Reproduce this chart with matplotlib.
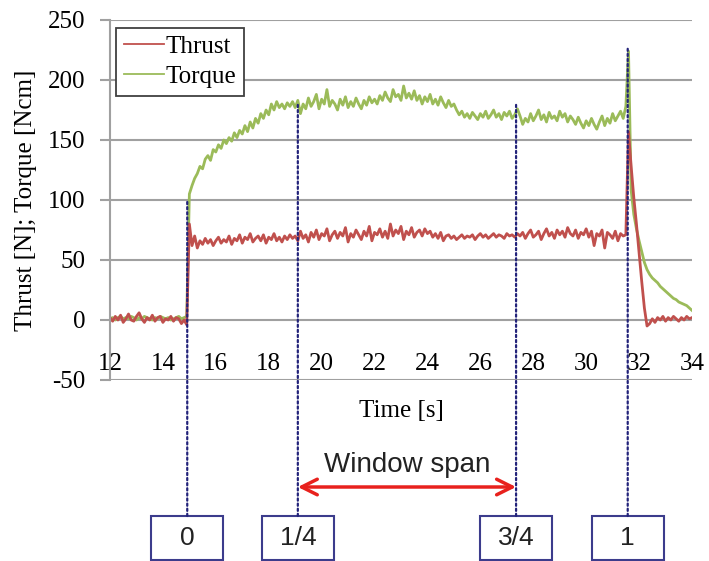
import numpy as np
import matplotlib
matplotlib.use("Agg")
import matplotlib.pyplot as plt
import matplotlib.transforms as mtransforms
from matplotlib.patches import Rectangle

plt.rcParams["axes.unicode_minus"] = False

# ---------------------------------------------------- data
# samples every 0.1 s from 12.0 s to 34.0 s
t_start, t_step = 12.0, 0.1

thrust = [
    # 12.0 - 14.9
    2, -1, 3, 0, 4, -2, 1, 5, 0, -1, 3, 6, 1, -2, 2, 0, 4, -1, 2, 3, -2, 1, 0, 3, -1, 2, 1, -3, 0, -4,
    # 15.0 - 19.0
    80, 62, 70, 60, 66, 63, 68, 64, 67, 62, 66, 69, 64, 67, 65, 70, 63, 68, 66, 71, 64, 69, 67, 72, 65,
    68, 70, 66, 71, 64, 69, 67, 72, 66, 69, 65, 70, 67, 71, 68, 70,
    # 19.1 - 24.0
    66, 74, 68, 71, 65, 73, 69, 75, 67, 72, 70, 76, 66, 71, 74, 68, 73, 70, 77, 65, 72, 69, 75, 71, 67,
    74, 70, 78, 66, 73, 71, 76, 69, 74, 68, 80, 70, 75, 72, 78, 67, 74, 71, 77, 69, 73, 75, 70, 76, 72,
    # 24.1 - 27.4
    74, 69, 72, 68, 73, 66, 70, 71, 68, 70, 67, 69, 71, 68, 70, 69, 71, 67, 70, 72, 69, 71, 68, 70, 72,
    69, 71, 70, 68, 72, 70, 71, 69, 72,
    # 27.5 - 31.5
    70, 73, 68, 72, 75, 69, 71, 74, 67, 72, 76, 70, 73, 68, 75, 71, 74, 69, 77, 72, 70, 75, 68, 73, 71,
    76, 69, 74, 62, 72, 70, 75, 60, 73, 71, 68, 74, 66, 72, 70, 71,
    # 31.6 - 34.0
    157, 128, 102, 80, 56, 32, 10, -5, -3, 1, -2, 2, 0, 3, -1, 2, 0, 3, 1, -1, 2, 0, 3, 1, 2,
]

torque = [
    # 12.0 - 14.9
    1, 2, 0, 2, 3, 1, 2, 1, 3, 2, 0, 2, 1, 3, 2, 1, 0, 2, 1, 3, 2, 1, 2, 0, 1, 2, 3, 1, 2, 3,
    # 15.0 - 19.0
    105, 112, 118, 122, 128, 126, 134, 137, 133, 142, 140, 146, 143, 150, 147, 152, 149, 156, 152, 158,
    155, 162, 157, 165, 160, 168, 164, 172, 168, 175, 171, 180, 175, 182, 177, 180, 176, 181, 178, 182, 177,
    # 19.1 - 24.0
    183, 172, 180, 176, 185, 178, 182, 188, 176, 184, 180, 192, 178, 183, 180, 175, 184, 179, 186, 177,
    182, 178, 185, 180, 176, 183, 179, 186, 181, 184, 180, 187, 183, 190, 185, 182, 192, 186, 188, 183,
    195, 185, 189, 184, 191, 183, 187, 180, 186, 182,
    # 24.1 - 27.4
    188, 180, 184, 179, 186, 181, 177, 183, 178, 180, 175, 171, 174, 169, 172, 168, 173, 170, 167, 172,
    169, 174, 168, 171, 175, 169, 172, 167, 173, 170, 174, 168, 171, 176,
    # 27.5 - 31.5
    170, 163, 168, 165, 172, 166, 170, 175, 167, 171, 165, 173, 168, 170, 166, 174, 169, 172, 165, 170,
    167, 163, 169, 164, 160, 166, 162, 168, 163, 159, 165, 170, 162, 168, 164, 172, 166, 170, 174, 168, 178,
    # 31.6 - 34.0
    224, 108, 88, 76, 66, 57, 48, 42, 38, 35, 33, 31, 28, 26, 24, 22, 20, 18, 17, 15, 14, 13, 12, 10, 8,
]

time = t_start + t_step * np.arange(len(thrust))

# window markers
mark_labels = ["0", "1/4", "3/4", "1"]
mark_times = [14.92, 19.1, 27.35, 31.57]
mark_tops = [100, 180, 180, 226]

# ---------------------------------------------------- figure
fig = plt.figure(figsize=(7.09, 5.61), dpi=100)
ax = fig.add_axes([110/709, 1 - 380/561, 582/709, 360/561])

serif = "Liberation Serif"
sans = "Liberation Sans"
grey = "#a0a0a0"

l_tq, = ax.plot(time, torque, color="#9bbb59", lw=2.0)
l_th, = ax.plot(time, thrust, color="#c0504d", lw=2.0)

ax.set_xlim(12, 34)
ax.set_ylim(-50, 250)
ax.set_xticks(np.arange(12, 35, 2))
ax.set_yticks(np.arange(-50, 251, 50))

# grid / spines like the spreadsheet chart
ax.grid(axis="y", color=grey, lw=1.5)
ax.set_axisbelow(True)
for s in ["top", "right", "bottom"]:
    ax.spines[s].set_visible(False)
ax.spines["left"].set_color(grey)
ax.spines["left"].set_linewidth(1.5)
ax.spines["bottom"].set_position(("data", 0))
ax.tick_params(axis="y", length=7, width=1.5, color=grey, pad=11, labelsize=18)
ax.tick_params(axis="x", length=0, pad=24, labelsize=18)
for lab in ax.get_xticklabels() + ax.get_yticklabels():
    lab.set_fontfamily(serif)

ax.set_xlabel("Time [s]", fontsize=18, family=serif)
ax.xaxis.set_label_coords(0.5, -0.055)
ax.set_ylabel("Thrust [N]; Torque [Ncm]", fontsize=18, family=serif)
ax.yaxis.set_label_coords(-0.125, 0.5)

leg = ax.legend([l_th, l_tq], ["Thrust", "Torque"], loc="upper left",
                bbox_to_anchor=(116/709, 1 - 28/561), bbox_transform=fig.transFigure,
                prop={"family": serif, "size": 18}, fancybox=False, framealpha=1,
                edgecolor="#404040", borderpad=0.3, labelspacing=0.3,
                handlelength=1.6, handletextpad=0.1, borderaxespad=0)
leg.get_frame().set_linewidth(1.3)
for h in leg.get_lines():
    h.set_linewidth(1.3)

# ---------------------------------------------------- window markers under the axes
blend = mtransforms.blended_transform_factory(ax.transData, fig.transFigure)
box_top = 1 - 516/561
box_h = 44/561
half_w = 36 / (582/22)
navy = "#23237a"

for lab, tm, top in zip(mark_labels, mark_times, mark_tops):
    ax.annotate("", xy=(tm, top), xycoords="data", xytext=(tm, box_top), textcoords=blend,
                arrowprops=dict(arrowstyle="-", color=navy, lw=1.6, linestyle=(0, (1, 1.3)),
                                shrinkA=0, shrinkB=0))
    ax.add_patch(Rectangle((tm - half_w, box_top - box_h), 2*half_w, box_h, transform=blend,
                           fill=False, edgecolor="#3c3c8c", lw=1.5, clip_on=False))
    ax.text(tm, box_top - box_h/2, lab, transform=blend, ha="center", va="center",
            fontsize=19, family=sans, color="#222222")

arrow_y = 1 - 487/561
ax.annotate("", xy=(mark_times[1], arrow_y), xycoords=blend,
            xytext=(mark_times[2], arrow_y), textcoords=blend,
            arrowprops=dict(arrowstyle="<->", color="#e8211d", lw=2.5, mutation_scale=28,
                            shrinkA=0, shrinkB=0))
ax.text((mark_times[1] + mark_times[2]) / 2, 1 - 465/561, "Window span", transform=blend,
        ha="center", va="center", fontsize=20, family=sans, color="#222222")

fig.savefig("out.png", dpi=100)
